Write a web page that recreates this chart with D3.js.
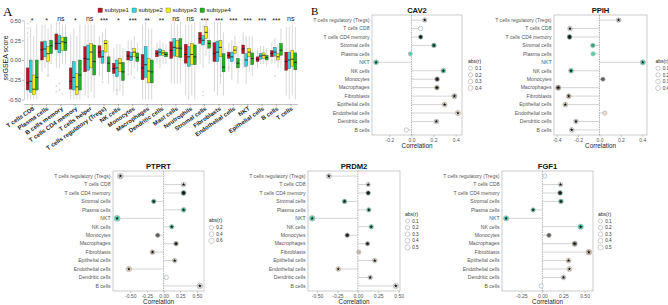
<!DOCTYPE html>
<html>
<head>
<meta charset="UTF-8">
<script src="https://cdn.jsdelivr.net/npm/d3@7"></script>
<style>
  body { margin: 0; background: #fff; }
  svg { display: block; font-family: Arial, "Liberation Sans", sans-serif; }
</style>
</head>
<body>
<svg id="canvas"></svg>
<script>

// ---------- panel A data ----------
const cellsA = ["T cells CD8", "Plasma cells", "B cells memory", "T cells CD4 memory", "T cells helper",
  "T cells regulatory (Tregs)", "NK cells", "Monocytes", "Macrophages", "Dendritic cells", "Mast cells",
  "Neutrophils", "Stromal cells", "Fibroblasts", "Endothelial cells", "NKT", "Epithelial cells", "B cells", "T cells"];
const sigA = ["*", "*", "ns", "*", "ns", "***", "*", "***", "**", "**", "ns", "ns", "***", "***", "***", "***", "***", "***", "ns"];
const subtypes = ["subtype1", "subtype2", "subtype3", "subtype4"];

// [lower whisker, q1, median, q3, upper whisker]
const subtype1 = [[-0.50,-0.38,-0.29,-0.10,0.30],[-0.15,0.00,0.13,0.23,0.45],[-0.10,0.13,0.21,0.33,0.48],[-0.50,-0.37,-0.27,-0.10,0.32],
  [-0.45,-0.15,0.02,0.17,0.45],[-0.20,0.03,0.10,0.18,0.30],[-0.40,-0.17,-0.11,-0.04,0.15],[-0.15,0.00,0.05,0.11,0.25],
  [-0.50,-0.25,-0.10,0.07,0.45],[-0.05,0.04,0.08,0.12,0.22],[-0.30,0.02,0.12,0.23,0.45],[-0.45,-0.04,0.07,0.20,0.45],
  [-0.05,0.21,0.27,0.35,0.48],[-0.40,-0.02,0.08,0.22,0.48],[-0.15,0.02,0.06,0.10,0.22],[-0.10,0.08,0.14,0.19,0.35],
  [-0.10,-0.02,0.01,0.04,0.15],[-0.05,0.04,0.08,0.12,0.22],[-0.45,-0.13,-0.02,0.10,0.42]];
const subtype2 = [[-0.50,-0.41,-0.27,0.00,0.42],[-0.10,0.04,0.14,0.24,0.45],[-0.10,0.09,0.21,0.31,0.48],[-0.50,-0.38,-0.22,-0.02,0.40],
  [-0.48,-0.13,0.01,0.19,0.45],[-0.25,-0.04,0.04,0.12,0.35],[-0.45,-0.21,-0.10,0.00,0.20],[-0.20,-0.01,0.04,0.10,0.25],
  [-0.50,-0.22,-0.06,0.17,0.48],[-0.10,0.06,0.10,0.14,0.25],[-0.30,0.05,0.16,0.27,0.48],[-0.50,-0.08,0.04,0.17,0.45],
  [-0.10,0.19,0.25,0.31,0.45],[-0.45,-0.02,0.10,0.24,0.48],[-0.25,-0.02,0.04,0.10,0.25],[-0.30,-0.08,0.00,0.08,0.30],
  [-0.05,0.01,0.05,0.08,0.18],[-0.05,0.05,0.10,0.16,0.28],[-0.50,-0.11,0.00,0.10,0.42]];
const subtype3 = [[-0.50,-0.44,-0.37,-0.19,0.30],[-0.20,-0.02,0.08,0.17,0.40],[-0.05,0.12,0.23,0.29,0.45],[-0.50,-0.44,-0.34,-0.17,0.30],
  [-0.40,-0.10,0.10,0.21,0.45],[-0.05,0.10,0.21,0.25,0.40],[-0.40,-0.15,-0.04,0.02,0.20],[-0.10,0.04,0.10,0.15,0.30],
  [-0.50,-0.29,-0.14,0.02,0.40],[-0.05,0.06,0.09,0.12,0.22],[-0.30,0.04,0.15,0.25,0.45],[-0.45,-0.06,0.07,0.21,0.45],
  [0.05,0.27,0.35,0.42,0.50],[-0.30,0.04,0.16,0.25,0.48],[-0.05,0.08,0.125,0.17,0.30],[-0.15,0.04,0.10,0.15,0.30],
  [-0.05,0.02,0.06,0.09,0.18],[-0.10,0.00,0.04,0.08,0.20],[-0.45,-0.08,0.01,0.125,0.45]];
const subtype4 = [[-0.50,-0.38,-0.22,0.00,0.45],[-0.05,0.08,0.18,0.25,0.45],[-0.05,0.12,0.22,0.29,0.45],[-0.50,-0.38,-0.19,0.00,0.45],
  [-0.48,-0.19,-0.02,0.19,0.45],[-0.30,-0.15,-0.04,0.04,0.25],[-0.45,-0.26,-0.15,-0.03,0.15],[-0.15,-0.02,0.03,0.09,0.22],
  [-0.50,-0.29,-0.15,0.00,0.40],[-0.05,0.04,0.07,0.10,0.20],[-0.30,0.03,0.15,0.27,0.48],[-0.50,-0.06,0.04,0.19,0.48],
  [-0.05,0.15,0.21,0.25,0.40],[-0.45,-0.15,-0.09,0.08,0.35],[-0.30,-0.10,-0.04,0.02,0.18],[-0.20,-0.06,0.02,0.09,0.30],
  [-0.08,0.00,0.03,0.06,0.15],[-0.10,0.06,0.125,0.21,0.40],[-0.50,-0.125,-0.03,0.09,0.42]];
// [category index, subtype index, value]
const outliersA = [[0,0,0.46],[0,0,0.40],[0,0,0.34],[0,1,0.48],[1,2,-0.20],[2,0,-0.33],[2,0,-0.40],[2,1,-0.30],[2,1,-0.38],
  [2,2,-0.43],[5,1,-0.28],[6,1,-0.38],[7,0,-0.18],[7,2,-0.22],[12,1,-0.40],[12,1,-0.45],[13,2,-0.20],[14,0,-0.10],[17,1,-0.20]];

// ---------- panel B data ----------
const cellsB = ["T cells regulatory (Tregs)", "T cells CD8", "T cells CD4 memory", "Stromal cells", "Plasma cells", "NKT",
  "NK cells", "Monocytes", "Macrophages", "Fibroblasts", "Epithelial cells", "Endothelial cells", "Dendritic cells", "B cells"];
const cav2R  = [0.12, 0.083, 0.083, 0.203, -0.01, -0.32, 0.288, 0.232, 0.23, 0.388, 0.30, 0.42, 0.225, -0.047];
const ppihR  = [0.179, -0.276, -0.28, -0.062, -0.06, 0.405, -0.266, 0.032, -0.386, -0.288, -0.32, 0.05, -0.22, -0.26];
const ptprtR = [-0.647, 0.30, 0.30, -0.147, 0.30, -0.696, 0.123, -0.088, 0.187, -0.166, 0.167, -0.52, 0.04, 0.544];
const prdm2R = [-0.355, 0.127, 0.127, -0.163, 0.135, -0.56, 0.164, -0.13, 0.119, 0.012, 0.208, -0.24, 0.152, 0.466];
const fgf1R  = [0.03, 0.215, 0.21, 0.22, -0.11, -0.43, 0.454, 0.078, 0.383, 0.551, 0.31, 0.32, 0.25, -0.015];
// 1 = significant (star), 0 = not significant, -1 = not available (open circle)
const cav2Sig  = [1, -1, 1, 1, 0, 1, 1, 1, 1, 1, 1, 1, 1, -1];
const ppihSig  = [1, 1, 1, 0, 0, 1, 1, 0, 1, 1, 1, 0, 1, 1];
const ptprtSig = [1, 1, 1, 1, 1, 1, 1, 0, 1, 1, 1, 1, -1, 1];
const prdm2Sig = [1, 1, 1, 1, 1, 1, 1, 1, 1, 0, 1, 1, 1, 1];
const fgf1Sig  = [-1, 1, 1, 1, 1, 1, 1, 0, 1, 1, 1, 1, 1, -1];
const cav2Ticks = [-0.2, 0, 0.2, 0.4];
const ppihTicks = [-0.4, -0.2, 0, 0.2, 0.4];
const quarterTicks = [-0.5, -0.25, 0, 0.25, 0.5];
const fgf1Ticks = [-0.25, 0, 0.25, 0.5];
const breaks4 = [0.1, 0.2, 0.3, 0.4];
const breaks5 = [0.1, 0.2, 0.3, 0.4, 0.5];
const ptprtBreaks = [0.2, 0.4, 0.6];

// ---------- styles ----------
const W = 668, H = 305;
const subColor = ["#c20f1e", "#2fd3df", "#f4ec12", "#1fb020"];
const cellColor = ["#d4d4d4", "#dcdcdc", "#1d4d3f", "#35a47a", "#4fd3a2", "#5ddcbc", "#45cba4",
  "#5e5a55", "#8a7f70", "#c6b79e", "#d8cbb5", "#eddcc6", "#d2d2d2", "#dedede"];

const svg = d3.select("#canvas").attr("width", W).attr("height", H);
svg.append("rect").attr("width", W).attr("height", H).attr("fill", "#fff");

// ================= Panel A =================
svg.append("text").attr("x", 3).attr("y", 16).attr("font-family", "'Liberation Serif', 'DejaVu Serif', serif")
  .attr("font-size", 13).text("A");

const gA = svg.append("g");
const x = d3.scaleBand().domain(cellsA).range([25, 298]).paddingInner(0.15).paddingOuter(0.075);
const sx = d3.scaleBand().domain(d3.range(4)).range([0, x.bandwidth()]).padding(0.02);
const y = d3.scaleLinear().domain([-0.5, 0.5]).range([99.5, 20.5]);

// axes
const yAxis = gA.append("g").attr("transform", "translate(24,0)")
  .call(d3.axisLeft(y).tickValues([-0.5, -0.25, 0, 0.25, 0.5]).tickFormat(d => d.toFixed(2)).tickSize(2).tickSizeOuter(0));
yAxis.select(".domain").attr("stroke", "#aaa").attr("stroke-width", 0.5);
yAxis.selectAll(".tick line").attr("stroke", "#888").attr("stroke-width", 0.6);
yAxis.selectAll(".tick text").attr("font-size", 5.5).attr("fill", "#444").attr("x", -3);

const xAxis = gA.append("g").attr("transform", "translate(0,104)")
  .call(d3.axisBottom(x).tickSize(2).tickSizeOuter(0));
xAxis.select(".domain").attr("stroke", "#999").attr("stroke-width", 0.6).attr("d", "M24,0.5H298");
xAxis.selectAll(".tick line").attr("stroke", "#888").attr("stroke-width", 0.6);
xAxis.selectAll(".tick text").attr("font-size", 6).attr("font-weight", "bold").attr("fill", "#222")
  .attr("text-anchor", "end").attr("dy", 0).attr("y", 0).attr("x", 0)
  .attr("transform", "translate(2.5,5.5) rotate(-35)");

gA.append("text").attr("transform", "translate(8,58) rotate(-90)").attr("text-anchor", "middle")
  .attr("font-size", 7).attr("fill", "#222").text("ssGSEA score");

// boxes
const allSubs = [subtype1, subtype2, subtype3, subtype4];
allSubs.forEach((series, s) => {
  const g = gA.append("g");
  const grp = g.selectAll("g").data(series).enter().append("g")
    .attr("transform", (d, i) => `translate(${x(cellsA[i]) + sx(s)},0)`);
  const bw = sx.bandwidth();
  grp.append("line").attr("x1", bw / 2).attr("x2", bw / 2)
    .attr("y1", d => y(d[0])).attr("y2", d => y(d[4]))
    .attr("stroke", "#b0b0b0").attr("stroke-width", 0.5);
  grp.append("rect").attr("x", 0).attr("width", bw)
    .attr("y", d => y(d[3])).attr("height", d => y(d[1]) - y(d[3]))
    .attr("fill", subColor[s]).attr("stroke", "#444").attr("stroke-width", 0.35);
  grp.append("line").attr("x1", 0).attr("x2", bw)
    .attr("y1", d => y(d[2])).attr("y2", d => y(d[2]))
    .attr("stroke", "#111").attr("stroke-width", 0.8);
});

gA.append("g").selectAll("circle").data(outliersA).enter().append("circle")
  .attr("cx", d => x(cellsA[d[0]]) + sx(d[1]) + sx.bandwidth() / 2)
  .attr("cy", d => y(d[2])).attr("r", 0.6)
  .attr("fill", "none").attr("stroke", "#aaa").attr("stroke-width", 0.4);

gA.append("g").selectAll("text").data(sigA).enter().append("text")
  .attr("x", (d, i) => x(cellsA[i]) + x.bandwidth() / 2)
  .attr("y", d => d === "ns" ? 21 : 22.5)
  .attr("text-anchor", "middle").attr("font-size", 7).attr("fill", "#222").text(d => d);

// legend
const legA = gA.append("g").selectAll("g").data(subtypes).enter().append("g")
  .attr("transform", (d, i) => `translate(${98 + i * 34},8)`);
legA.append("rect").attr("width", 4.5).attr("height", 4.5).attr("fill", (d, i) => subColor[i])
  .attr("stroke", "#444").attr("stroke-width", 0.3);
legA.append("text").attr("x", 6.5).attr("y", 4.4).attr("font-size", 6).attr("fill", "#222").text(d => d);

// ================= Panel B =================
svg.append("text").attr("x", 311).attr("y", 15).attr("font-family", "'Liberation Serif', 'DejaVu Serif', serif")
  .attr("font-size", 11).text("B");

const panels = [
  { name: "CAV2",  r: cav2R,  sig: cav2Sig,  ticks: cav2Ticks,    fmt: ".1f", brk: breaks4,     x0: 372, x1: 462, y0: 15,  y1: 135, lx: 468 },
  { name: "PPIH",  r: ppihR,  sig: ppihSig,  ticks: ppihTicks,    fmt: ".1f", brk: breaks4,     x0: 554, x1: 647, y0: 15,  y1: 135, lx: 655.5 },
  { name: "PTPRT", r: ptprtR, sig: ptprtSig, ticks: quarterTicks, fmt: ".2f", brk: ptprtBreaks, x0: 113, x1: 204, y0: 171, y1: 291, lx: 209 },
  { name: "PRDM2", r: prdm2R, sig: prdm2Sig, ticks: quarterTicks, fmt: ".2f", brk: breaks5,     x0: 308, x1: 400, y0: 171, y1: 291, lx: 405 },
  { name: "FGF1",  r: fgf1R,  sig: fgf1Sig,  ticks: fgf1Ticks,    fmt: ".2f", brk: breaks5,     x0: 502, x1: 593, y0: 171, y1: 291, lx: 598 }
];

const rSize = d3.scaleLinear().domain([0, 0.7]).range([2.1, 3.0]);
const star = d3.symbol(d3.symbolStar).size(4.5);

panels.forEach(p => {
  const g = svg.append("g");
  const ext = d3.extent(p.r);
  const pad = (ext[1] - ext[0]) * 0.05;
  const px = d3.scaleLinear().domain([ext[0] - pad, ext[1] + pad]).range([p.x0, p.x1]);
  const py = d3.scalePoint().domain(cellsB).range([p.y0, p.y1]).padding(0.6);
  const fmt = d3.format(p.fmt);

  g.append("rect").attr("x", p.x0).attr("y", p.y0).attr("width", p.x1 - p.x0).attr("height", p.y1 - p.y0)
    .attr("fill", "#fff").attr("stroke", "#aaa").attr("stroke-width", 0.6);

  g.append("line").attr("x1", px(0)).attr("x2", px(0)).attr("y1", p.y0).attr("y2", p.y1)
    .attr("stroke", "#555").attr("stroke-width", 0.6).attr("stroke-dasharray", "0.8,0.9");

  // x axis
  const xa = g.append("g").attr("transform", `translate(0,${p.y1})`)
    .call(d3.axisBottom(px).tickValues(p.ticks).tickFormat(d => fmt(d).replace("−", "-")).tickSize(2).tickSizeOuter(0));
  xa.select(".domain").remove();
  xa.selectAll(".tick line").attr("stroke", "#999").attr("stroke-width", 0.5);
  xa.selectAll(".tick text").attr("font-size", 5).attr("fill", "#555").attr("y", 3).attr("dy", "0.71em");

  g.append("text").attr("x", (p.x0 + p.x1) / 2).attr("y", p.y1 + 13).attr("text-anchor", "middle")
    .attr("font-size", 6.3).attr("fill", "#222").text("Correlation");

  g.append("text").attr("x", (p.x0 + p.x1) / 2).attr("y", p.y0 - 2.5).attr("text-anchor", "middle")
    .attr("font-size", 7.6).attr("font-weight", "bold").attr("fill", "#111").text(p.name);

  // y labels
  g.append("g").selectAll("text").data(cellsB).enter().append("text")
    .attr("x", p.x0 - 2.5).attr("y", d => py(d)).attr("dy", "0.35em").attr("text-anchor", "end")
    .attr("font-size", 5.1).attr("fill", "#555").text(d => d);

  // lollipops
  g.append("g").selectAll("line").data(p.r).enter().append("line")
    .attr("x1", px(0)).attr("x2", d => px(d))
    .attr("y1", (d, i) => py(cellsB[i])).attr("y2", (d, i) => py(cellsB[i]))
    .attr("stroke", "#c2c2c2").attr("stroke-width", 0.7);

  g.append("g").selectAll("circle").data(p.r).enter().append("circle")
    .attr("cx", d => px(d)).attr("cy", (d, i) => py(cellsB[i]))
    .attr("r", d => rSize(Math.abs(d)))
    .attr("fill", (d, i) => p.sig[i] < 0 ? "#fff" : cellColor[i])
    .attr("stroke", (d, i) => p.sig[i] < 0 ? "#9fb8cc" : "#b8b8b8")
    .attr("stroke-width", 0.7);

  const sigIdx = d3.range(p.r.length).filter(i => p.sig[i] === 1);
  g.append("g").selectAll("path").data(sigIdx).enter().append("path")
    .attr("d", star)
    .attr("transform", i => `translate(${px(p.r[i])},${py(cellsB[i])})`)
    .attr("fill", "#111");

  // legend
  const lh = 6.6;
  const ly = (p.y0 + p.y1) / 2 - (p.brk.length * lh + 8) / 2;
  const lg = g.append("g").attr("transform", `translate(${p.lx},${ly})`);
  lg.append("text").attr("x", 0).attr("y", 5).attr("font-size", 5).attr("fill", "#222").text("abs(r)");
  const li = lg.selectAll("g").data(p.brk).enter().append("g")
    .attr("transform", (d, i) => `translate(0,${10.5 + i * lh})`);
  li.append("circle").attr("cx", 2.5).attr("cy", 0).attr("r", d => rSize(d) - 0.2)
    .attr("fill", "#fff").attr("stroke", "#999").attr("stroke-width", 0.5);
  li.append("text").attr("x", 7.2).attr("y", 0).attr("dy", "0.35em").attr("font-size", 4.6).attr("fill", "#333")
    .text(d => d.toFixed(1));
});

</script>
</body>
</html>
